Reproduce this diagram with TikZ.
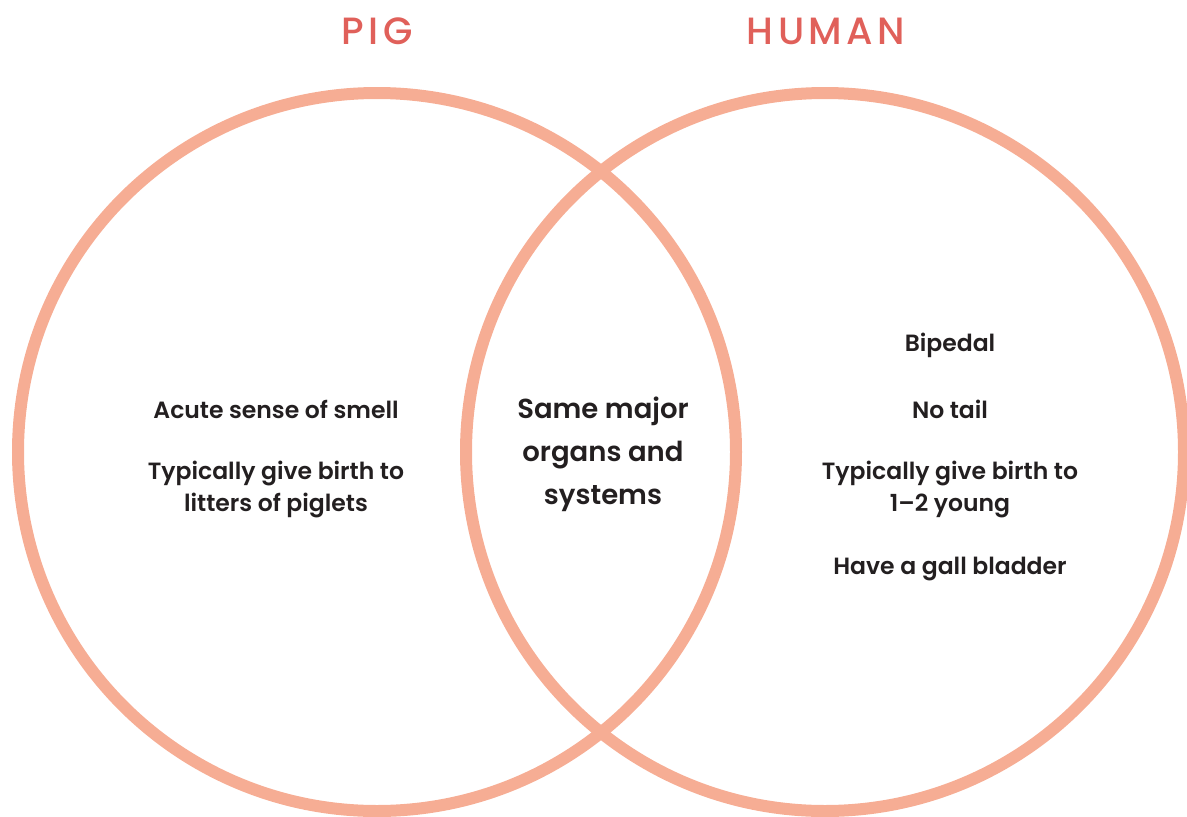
\documentclass[tikz,border=0pt]{standalone}
\usepackage{fontspec}
\setmainfont{Poppins}[UprightFont=* SemiBold]
\newfontfamily\headfont{Poppins}[UprightFont=* Medium,LetterSpace=12]
\definecolor{ring}{HTML}{F6AD94}
\definecolor{title}{HTML}{E0605A}
\definecolor{txt}{HTML}{231F20}
\begin{document}
\begin{tikzpicture}[x=1pt,y=-1pt,
  ringstyle/.style={draw=ring,line width=12pt},
  label/.style={font=\fontsize{23.5}{32}\selectfont,text=txt,align=center,inner sep=0pt},
  mid/.style={font=\fontsize{27.5}{43}\selectfont,text=txt,align=center,inner sep=0pt},
  head/.style={font=\headfont\fontsize{38}{40}\selectfont,text=title,inner sep=0pt}]
\useasboundingbox (0,0) rectangle (1187,817);
\draw[ringstyle] (377,452) circle[radius=359];
\draw[ringstyle] (825,452) circle[radius=359];
\node[head] (pig) at (377,31) {PIG};
\node[head] (human) at (826,31) {HUMAN};
\node[label] (smell) at (276,409) {Acute sense of smell};
\node[label] (litters) at (276,489) {Typically give birth to\\litters of piglets};
\node[mid] (same) at (603,454) {Same major\\organs and\\systems};
\node[label] (biped) at (950,345) {Bipedal};
\node[label] (tail) at (950,409) {No tail};
\node[label] (young) at (950,489) {Typically give birth to\\1–2 young};
\node[label] (gall) at (950,569) {Have a gall bladder};
\end{tikzpicture}
\end{document}
